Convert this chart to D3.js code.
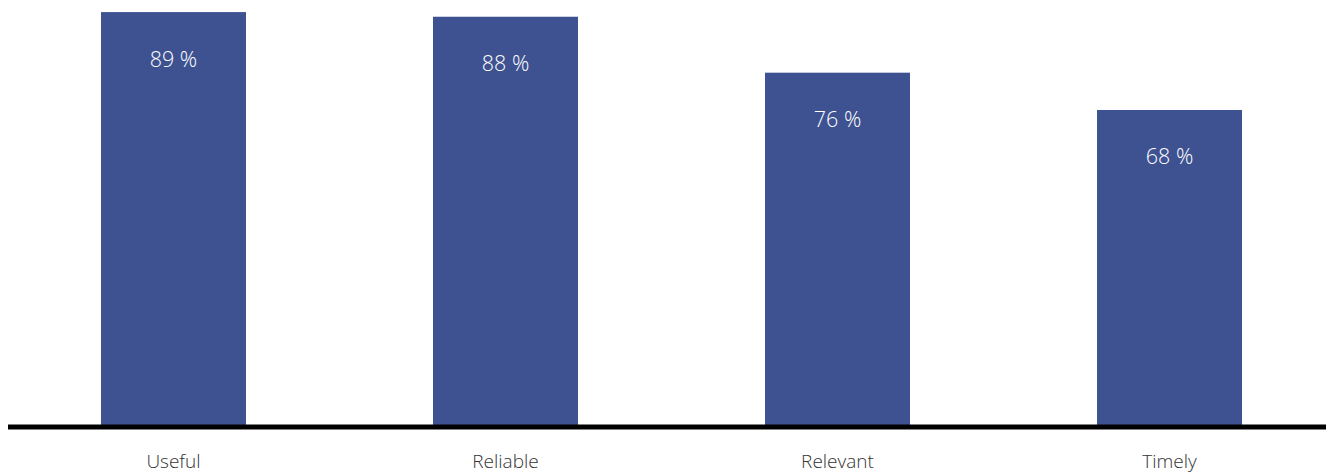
<!DOCTYPE html>
<html><head><meta charset="utf-8">
<script src="https://cdn.jsdelivr.net/npm/d3@7"></script>
<style>html,body{margin:0;padding:0;background:#fff;overflow:hidden}</style>
</head><body>
<svg id="c" width="1326" height="474"></svg>
<script>
const categories = ["Useful", "Reliable", "Relevant", "Timely"];
const values = [89, 88, 76, 68];
const valueLabels = ["89 %", "88 %", "76 %", "68 %"];

const svg = d3.select("#c");
const x = d3.scaleBand().domain(categories).range([7.5, 1335.5]).paddingInner(0.5633).paddingOuter(0.2816);
const y = d3.scaleLinear().domain([0, 100]).range([427, 427 - 466.2]);
const font = "'Open Sans', 'Segoe UI', sans-serif";

svg.selectAll("rect.bar").data(values).join("rect")
  .attr("class", "bar")
  .attr("x", (d, i) => x(categories[i]))
  .attr("width", x.bandwidth())
  .attr("y", d => y(d))
  .attr("height", d => y(0) - y(d))
  .attr("fill", "#3e5291");

svg.selectAll("text.val").data(values).join("text")
  .attr("class", "val")
  .attr("x", (d, i) => x(categories[i]) + x.bandwidth() / 2)
  .attr("y", d => y(d) + 54.5)
  .attr("text-anchor", "middle")
  .attr("fill", "#ffffff")
  .style("font-family", font)
  .style("font-weight", 300)
  .style("font-size", "21.5px")
  .text((d, i) => valueLabels[i]);

const axis = d3.axisBottom(x).tickSize(0).tickPadding(28);
const g = svg.append("g").attr("transform", `translate(0,${y(0)})`).call(axis);
g.select(".domain").attr("d", "M8,0H1326").attr("stroke", "#000").attr("stroke-width", 5);
g.selectAll("text").attr("fill", "#333").style("font-family", font).style("font-weight", 300).style("font-size", "19px");
</script>
</body></html>
